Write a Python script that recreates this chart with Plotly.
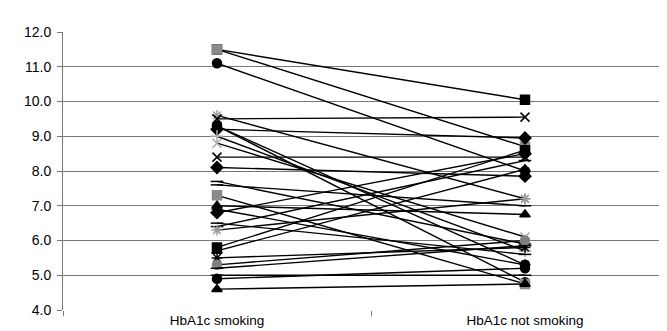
import plotly.graph_objects as go

categories = ["HbA1c smoking", "HbA1c not smoking"]

# HbA1c values per subject: while smoking -> after quitting
smoking = [11.5, 11.5, 11.1, 9.6, 9.5, 9.3, 9.3, 9.2, 9.0, 8.8, 8.4, 8.1, 7.7, 7.6,
           7.3, 7.0, 6.9, 6.8, 6.5, 6.4, 6.3, 5.8, 5.7, 5.5, 5.3, 5.2, 5.0, 4.9, 4.6]
not_smoking = [10.05, 8.7, 8.0, 7.2, 9.55, 5.3, 4.8, 8.95, 5.7, 6.1, 8.4, 7.85, 5.9, 7.0,
               4.75, 6.75, 5.3, 8.5, 5.6, 8.3, 7.2, 8.6, 8.05, 5.8, 6.0, 5.85, 5.0, 5.2, 4.75]

y_ticks = [4, 5, 6, 7, 8, 9, 10, 11, 12]
y_tick_labels = ["4.0", "5.0", "6.0", "7.0", "8.0", "9.0", "10.0", "11.0", "12.0"]

symbol_cycle = ["square", "square", "circle", "asterisk-open", "x-thin-open", "circle", "circle",
                "diamond", "cross-thin-open", "x-thin-open", "x-thin-open", "diamond", "line-ew-open",
                "line-ew-open", "square", "triangle-up", "asterisk-open", "diamond", "line-ew-open",
                "line-ew-open", "asterisk-open", "square", "triangle-up", "asterisk-open", "circle",
                "line-ew-open", "line-ew-open", "circle", "triangle-up"]
color_cycle = ["black", "#8a8a8a", "black", "#9a9a9a", "black", "black", "black",
               "black", "#aaaaaa", "#aaaaaa", "black", "black", "black",
               "black", "#8a8a8a", "black", "black", "black", "black",
               "black", "#9a9a9a", "black", "black", "black", "#808080",
               "black", "black", "black", "black"]

fig = go.Figure()
for i, (a, b) in enumerate(zip(smoking, not_smoking)):
    sym = symbol_cycle[i % len(symbol_cycle)]
    col = color_cycle[i % len(color_cycle)]
    fig.add_trace(go.Scatter(
        x=categories, y=[a, b], mode="lines+markers",
        line=dict(color="black", width=1.4),
        marker=dict(symbol=sym, size=9, color=col,
                    line=dict(color=col, width=1.5)),
        showlegend=False, hoverinfo="skip"))

fig.update_layout(
    width=667, height=331,
    margin=dict(l=55, r=0, t=24, b=29),
    paper_bgcolor="white", plot_bgcolor="white",
    font=dict(family="Liberation Sans, Arial, sans-serif", size=13, color="black"),
    xaxis=dict(type="category", range=[-0.5, 1.487], showgrid=False,
               ticks="outside", tickson="boundaries", ticklen=5, tickcolor="#777",
               tickfont=dict(size=13.5),
               showline=False, zeroline=False),
    yaxis=dict(range=[4, 12], tickvals=y_ticks, ticktext=y_tick_labels,
               showgrid=True, gridcolor="#777", gridwidth=1,
               ticks="outside", ticklen=5, tickcolor="#777",
               tickfont=dict(size=14), ticklabelstandoff=3,
               showline=True, linecolor="#777", linewidth=1, zeroline=False),
)

fig.write_html("out.html")
